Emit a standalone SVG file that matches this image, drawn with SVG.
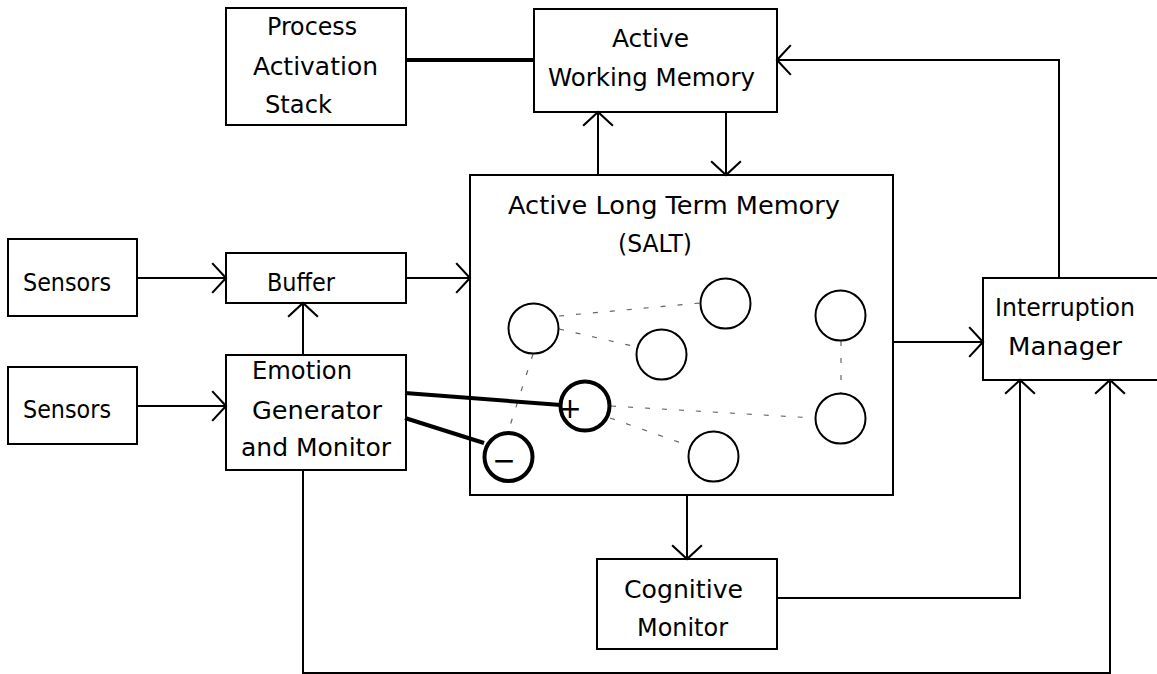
<svg xmlns="http://www.w3.org/2000/svg" width="1157" height="674" viewBox="0 0 1157 674">
<style>
.box{fill:#fff;stroke:#000;stroke-width:2}
.t{font-family:"DejaVu Sans","Liberation Sans",sans-serif;font-size:24px;fill:#000;text-anchor:middle}
.ln{fill:none;stroke:#000;stroke-width:2}
.thick{fill:none;stroke:#000;stroke-width:4}
.dash{fill:none;stroke:#666;stroke-width:1.2;stroke-dasharray:5 12}
.node{fill:#fff;stroke:#000;stroke-width:2}
.nodeb{fill:none;stroke:#000;stroke-width:4}
.sym{font-family:"DejaVu Sans","Liberation Sans",sans-serif;font-size:28px;fill:#000;text-anchor:middle}
</style>
<defs>
<marker id="arr" markerUnits="userSpaceOnUse" markerWidth="30" markerHeight="34" viewBox="-15 -16 17 32" refX="0" refY="0" orient="auto" overflow="visible">
<path d="M-13,-14 L0,0 L-13,14" fill="none" stroke="#000" stroke-width="2"/>
</marker>
</defs>
<rect width="1157" height="674" fill="#fff"/>

<g id="pas">
<rect class="box" x="226" y="8" width="180" height="117"/>
<text class="t" x="312" y="35" textLength="90" lengthAdjust="spacingAndGlyphs">Process</text>
<text class="t" x="315.5" y="75" textLength="125" lengthAdjust="spacingAndGlyphs">Activation</text>
<text class="t" x="298.5" y="113" textLength="67" lengthAdjust="spacingAndGlyphs">Stack</text>
</g>

<g id="wm">
<rect class="box" x="534" y="9" width="243" height="103"/>
<text class="t" x="650.5" y="47" textLength="77" lengthAdjust="spacingAndGlyphs">Active</text>
<text class="t" x="651.5" y="86" textLength="207" lengthAdjust="spacingAndGlyphs">Working Memory</text>
</g>

<g id="altm">
<rect class="box" x="470" y="175" width="423" height="320"/>
<text class="t" x="674" y="214" textLength="332" lengthAdjust="spacingAndGlyphs">Active Long Term Memory</text>
<text class="t" x="655" y="252" textLength="74" lengthAdjust="spacingAndGlyphs">(SALT)</text>
<g id="links">
<line class="dash" x1="559" y1="316" x2="700" y2="303"/>
<line class="dash" x1="559" y1="329" x2="637" y2="347"/>
<line class="dash" x1="533" y1="354" x2="508" y2="432"/>
<line class="dash" x1="841" y1="341" x2="841" y2="393"/>
<line class="dash" x1="611" y1="406" x2="815" y2="418"/>
<line class="dash" x1="610" y1="418" x2="690" y2="446"/>
</g>
<circle class="node" cx="533.5" cy="328.5" r="25"/>
<circle class="node" cx="725.5" cy="303.5" r="25"/>
<circle class="node" cx="661.5" cy="354.5" r="25"/>
<circle class="node" cx="840.5" cy="315.5" r="25"/>
<circle class="node" cx="840.5" cy="418.5" r="25"/>
<circle class="node" cx="713.5" cy="456.5" r="25"/>
</g>

<g id="sensors1">
<rect class="box" x="8" y="239" width="129" height="77"/>
<text class="t" x="67" y="291" textLength="88" lengthAdjust="spacingAndGlyphs">Sensors</text>
</g>
<g id="sensors2">
<rect class="box" x="8" y="367" width="129" height="77"/>
<text class="t" x="67" y="418" textLength="88" lengthAdjust="spacingAndGlyphs">Sensors</text>
</g>
<g id="buffer">
<rect class="box" x="226" y="253" width="180" height="50"/>
<text class="t" x="301" y="291" textLength="68" lengthAdjust="spacingAndGlyphs">Buffer</text>
</g>
<g id="emotion">
<rect class="box" x="226" y="355" width="180" height="115"/>
<text class="t" x="302" y="379" textLength="100" lengthAdjust="spacingAndGlyphs">Emotion</text>
<text class="t" x="317" y="419" textLength="130" lengthAdjust="spacingAndGlyphs">Generator</text>
<text class="t" x="316" y="456" textLength="150" lengthAdjust="spacingAndGlyphs">and Monitor</text>
</g>
<g id="cognitive">
<rect class="box" x="597" y="559" width="180" height="90"/>
<text class="t" x="683.5" y="598" textLength="119" lengthAdjust="spacingAndGlyphs">Cognitive</text>
<text class="t" x="682.5" y="636" textLength="91" lengthAdjust="spacingAndGlyphs">Monitor</text>
</g>
<g id="interruption">
<rect class="box" x="983" y="278" width="180" height="102"/>
<text class="t" x="1065" y="316" textLength="140" lengthAdjust="spacingAndGlyphs">Interruption</text>
<text class="t" x="1065" y="355" textLength="114" lengthAdjust="spacingAndGlyphs">Manager</text>
</g>

<g id="connectors">
<line class="thick" x1="406" y1="60" x2="534" y2="60"/>
<polyline class="ln" points="1059,278 1059,60 777,60" marker-end="url(#arr)"/>
<line class="ln" x1="598" y1="175" x2="598" y2="112" marker-end="url(#arr)"/>
<line class="ln" x1="726" y1="112" x2="726" y2="175" marker-end="url(#arr)"/>
<line class="ln" x1="137" y1="278" x2="226" y2="278" marker-end="url(#arr)"/>
<line class="ln" x1="406" y1="278" x2="470" y2="278" marker-end="url(#arr)"/>
<line class="ln" x1="303" y1="355" x2="303" y2="303" marker-end="url(#arr)"/>
<line class="ln" x1="137" y1="406" x2="226" y2="406" marker-end="url(#arr)"/>
<line class="ln" x1="893" y1="342" x2="983" y2="342" marker-end="url(#arr)"/>
<line class="ln" x1="687" y1="495" x2="687" y2="559" marker-end="url(#arr)"/>
<polyline class="ln" points="777,598 1020,598 1020,380" marker-end="url(#arr)"/>
<polyline class="ln" points="303,470 303,673 1110,673 1110,380" marker-end="url(#arr)"/>
<line class="thick" x1="405" y1="393" x2="561" y2="405"/>
<line class="thick" x1="405" y1="418" x2="484" y2="443"/>
</g>

<g id="emotion-nodes">
<circle class="nodeb" cx="585" cy="406" r="24.5"/>
<circle class="nodeb" cx="508.5" cy="457" r="24"/>
<text class="sym" x="570" y="418">+</text>
<text class="sym" x="504" y="470">−</text>
</g>
</svg>
